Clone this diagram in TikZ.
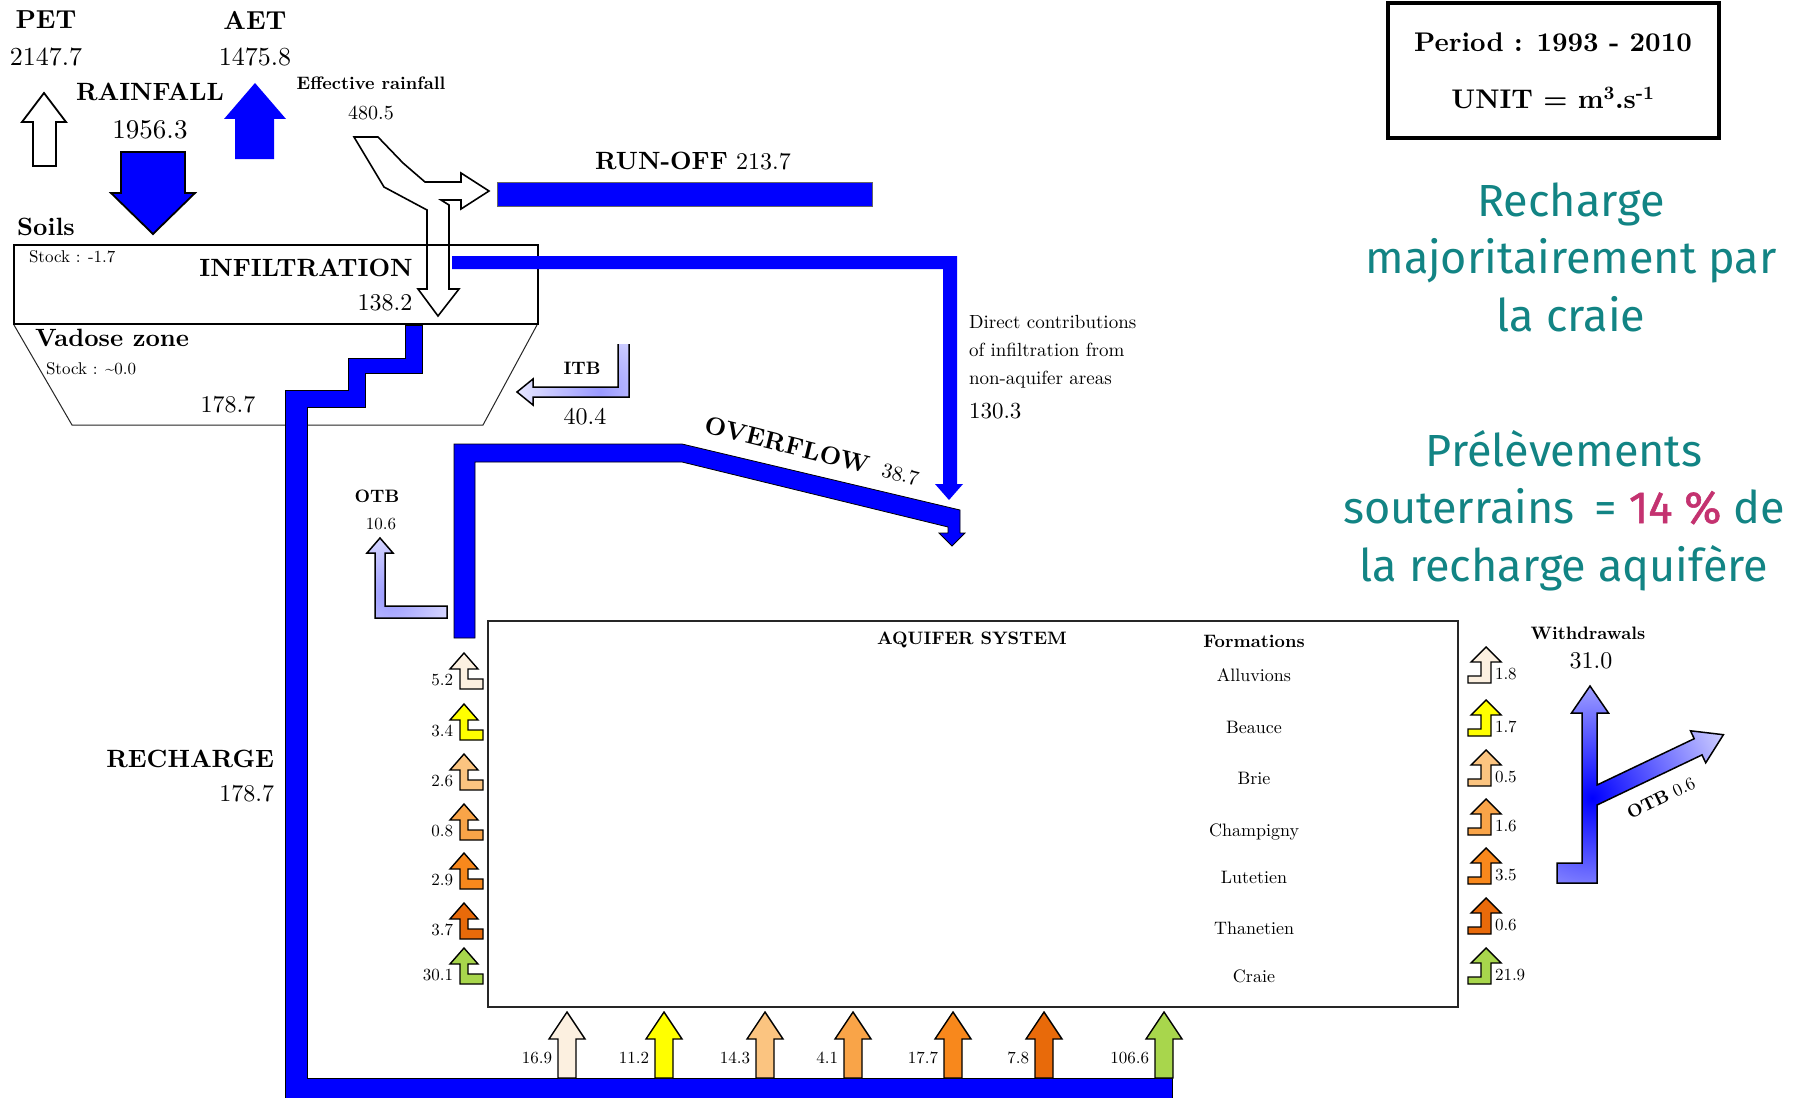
\documentclass[tikz,border=0pt]{standalone}
\usepackage{fontspec}
\setmainfont{Latin Modern Roman}[OpticalSize=10]
\newfontfamily\tealfont{Fira Sans}
\newfontfamily\magfont{Fira Sans}[FakeBold=1.2]
\definecolor{tealtxt}{RGB}{18,132,132}
\definecolor{magtxt}{RGB}{196,50,112}
\definecolor{cAll}{RGB}{252,240,224}
\definecolor{cBea}{RGB}{255,255,0}
\definecolor{cBri}{RGB}{251,196,128}
\definecolor{cCha}{RGB}{249,164,72}
\definecolor{cLut}{RGB}{248,136,28}
\definecolor{cTha}{RGB}{232,106,10}
\definecolor{cCra}{RGB}{168,214,76}
\newcommand{\fsz}[1]{\fontsize{#1}{#1}\selectfont}
\newcommand{\inArrowL}[4]{%
  \draw[smallarrow, fill=#3] (464,#2) -- ++(14,16) -- ++(-10,0) -- ++(0,10) -- ++(15,0) -- ++(0,10) -- ++(-23,0) -- ++(0,-20) -- ++(-10,0) -- cycle;
  \node[txt, font=\fsz{17}, anchor=east] (#1) at (453,{#2+27}) {#4};}
\newcommand{\outArrowR}[4]{%
  \draw[smallarrow, fill=#3] (1486,#2) -- ++(15,15) -- ++(-10,0) -- ++(0,21) -- ++(-23,0) -- ++(0,-7) -- ++(13,0) -- ++(0,-14) -- ++(-10,0) -- cycle;
  \node[txt, font=\fsz{17}, anchor=west] (#1) at (1495,{#2+27}) {#4};}
\newcommand{\upArrowB}[4]{%
  \draw[smallarrow, fill=#3] (#2,1012) -- ++(18,27) -- ++(-9,0) -- ++(0,39) -- ++(-18,0) -- ++(0,-39) -- ++(-9,0) -- cycle;
  \node[txt, font=\fsz{17}, anchor=east] (#1) at ({#2-15},1058) {#4};}
\tikzset{
  txt/.style={inner sep=0pt, outer sep=0pt},
  bigarrow/.style={draw=black, line width=1.8pt, line join=miter},
  smallarrow/.style={draw=black, line width=1.4pt, line join=miter},
  flow/.style={fill=blue, draw=black, line width=0.8pt},
  tealline/.style={inner sep=0pt, anchor=base, text=tealtxt, font=\tealfont\fsz{45}}
}
\begin{document}
\begin{tikzpicture}[x=1pt,y=-1pt]
\useasboundingbox (0,0) rectangle (1803,1097);
\fill[white] (0,0) rectangle (1803,1097);

% ---- top-left atmosphere ----
\node[txt, font=\bfseries\fsz{26}] (pet) at (46,20) {PET};
\node[txt, font=\fsz{26}] (petv) at (46,57) {2147.7};
\node[txt, font=\bfseries\fsz{26}] (aet) at (255,20) {AET};
\node[txt, font=\fsz{26}] (aetv) at (255,57) {1475.8};
\node[txt, font=\bfseries\fsz{25}] (rain) at (150,92) {RAINFALL};
\node[txt, font=\fsz{27}] (rainv) at (150,130) {1956.3};
\node[txt, font=\bfseries\fsz{18}] (eff) at (371,83) {Effective rainfall};
\node[txt, font=\fsz{20}] (effv) at (371,113) {480.5};

\draw[bigarrow, fill=white] (44,93) -- (66,122) -- (56,122) -- (56,166) -- (33,166) -- (33,122) -- (22,122) -- cycle;
\fill[blue] (255,83) -- (286,119) -- (274,119) -- (274,159) -- (235,159) -- (235,119) -- (224,119) -- cycle;
\draw[bigarrow, fill=blue] (121,152) -- (185,152) -- (185,193) -- (195,193) -- (153,234) -- (111,193) -- (121,193) -- cycle;

% effective rainfall split arrow
\draw[line width=1.6pt, line join=miter] (354,137) -- (378,137) -- (403,163) -- (425,182) -- (461,182) -- (461,173) -- (489,191) -- (461,209) -- (461,200) -- (441,200) -- (449,205) -- (449,289) -- (459,289) -- (438,316) -- (418,289) -- (427,289) -- (427,210) -- (384,187) -- cycle;

% run-off
\fill[blue, draw=black!60, line width=0.6pt] (497,182) rectangle (872,206);
\node[txt, font=\fsz{24}] (runoff) at (693,161) {\fsz{25}\textbf{RUN-OFF} \fsz{24}213.7};

% ---- soils and vadose zone ----
\node[txt, font=\bfseries\fsz{25}] (soils) at (46,227) {Soils};
\draw[line width=2pt] (14,245) rectangle (538,324);
\node[txt, font=\fsz{17}, anchor=west] (stock1) at (29,257) {Stock : -1.7};
\node[txt, font=\bfseries\fsz{25}] (infil) at (306,268) {INFILTRATION};
\node[txt, font=\fsz{24}] (infv) at (385,303) {138.2};
\draw[line width=1pt, black!85] (14,325) -- (72,425) -- (483,425) -- (537,325);
\node[txt, font=\bfseries\fsz{25}, anchor=west] (vad) at (35,338) {Vadose zone};
\node[txt, font=\fsz{17}, anchor=west] (stock2) at (46,369) {Stock : \textasciitilde0.0};
\node[txt, font=\fsz{24}] (vadv) at (228,405) {178.7};

% infiltration to direct contributions
\fill[blue] (452,256) -- (957,256) -- (957,484) -- (963,484) -- (949,500) -- (935,484) -- (943,484) -- (943,269) -- (452,269) -- cycle;
\node[txt, font=\fontsize{19}{28}\selectfont, align=left, anchor=north west] (direct) at (969,315) {Direct contributions\\of infiltration from\\non-aquifer areas};
\node[txt, font=\fsz{23}, anchor=base west] (c130) at (969,418) {130.3};

% recharge staircase
\draw[flow] (405,325) -- (405,358) -- (348,358) -- (348,390) -- (285,390) -- (285,1102) -- (1172,1102) -- (1172,1078) -- (307,1078) -- (307,407) -- (365,407) -- (365,373) -- (422,373) -- (422,325) -- cycle;
\node[txt, font=\bfseries\fsz{25}, anchor=east] (rech) at (274,759) {RECHARGE};
\node[txt, font=\fsz{24}, anchor=east] (rechv) at (274,794) {178.7};

% ITB
\path[path picture={\shade[inner color=blue!40, outer color=white] (600,392) circle (110);}] (618,344) -- (618,387) -- (533,387) -- (533,379) -- (517,392) -- (533,405) -- (533,397) -- (629,397) -- (629,344) -- cycle;
\draw[line width=1.5pt, line join=miter] (618,344) -- (618,387) -- (533,387) -- (533,379) -- (517,392) -- (533,405) -- (533,397) -- (629,397) -- (629,344);
\node[txt, font=\bfseries\fsz{18}] (itb) at (582,368) {ITB};
\node[txt, font=\fsz{24}] (itbv) at (585,417) {40.4};

% overflow
\draw[flow] (454,638) -- (454,444) -- (682,444) -- (960,510) -- (960,533) -- (965,533) -- (952,546) -- (939,533) -- (948,533) -- (948,527) -- (682,462) -- (475,462) -- (475,638) -- cycle;
\node[txt, rotate=-14] (ovf) at (812,451) {\fsz{25}\textbf{OVERFLOW}\hspace{14pt}\fsz{21}38.7};

% OTB left
\draw[line width=1.5pt, line join=miter, path picture={\shade[inner color=blue!40, outer color=white] (390,596) circle (100);}] (380,538) -- (393,553) -- (385,553) -- (385,606) -- (447,606) -- (447,618) -- (375,618) -- (375,553) -- (367,553) -- cycle;
\node[txt, font=\bfseries\fsz{18}] (otb) at (377,496) {OTB};
\node[txt, font=\fsz{17}] (otbv) at (381,524) {10.6};

% aquifer system box
\draw[line width=1.8pt, black!85] (488,621) rectangle (1458,1007);
\node[txt, font=\bfseries\fsz{18}] (aq) at (972,640) {AQUIFER SYSTEM};
\node[txt, font=\bfseries\fsz{18}] (form) at (1254,641) {Formations};
\node[txt, font=\fsz{18}, anchor=base] (fAll) at (1254,681) {Alluvions};
\node[txt, font=\fsz{18}, anchor=base] (fBea) at (1254,733) {Beauce};
\node[txt, font=\fsz{18}, anchor=base] (fBri) at (1254,784) {Brie};
\node[txt, font=\fsz{18}, anchor=base] (fCha) at (1254,836) {Champigny};
\node[txt, font=\fsz{18}, anchor=base] (fLut) at (1254,883) {Lutetien};
\node[txt, font=\fsz{18}, anchor=base] (fTha) at (1254,934) {Thanetien};
\node[txt, font=\fsz{18}, anchor=base] (fCra) at (1254,982) {Craie};

% left inflow arrows
\inArrowL{l1}{653}{cAll}{5.2}
\inArrowL{l2}{704}{cBea}{3.4}
\inArrowL{l3}{754}{cBri}{2.6}
\inArrowL{l4}{804}{cCha}{0.8}
\inArrowL{l5}{853}{cLut}{2.9}
\inArrowL{l6}{903}{cTha}{3.7}
\inArrowL{l7}{948}{cCra}{30.1}

% bottom recharge arrows
\upArrowB{b1}{567}{cAll}{16.9}
\upArrowB{b2}{664}{cBea}{11.2}
\upArrowB{b3}{765}{cBri}{14.3}
\upArrowB{b4}{853}{cCha}{4.1}
\upArrowB{b5}{953}{cLut}{17.7}
\upArrowB{b6}{1044}{cTha}{7.8}
\upArrowB{b7}{1164}{cCra}{106.6}

% right withdrawal arrows
\outArrowR{r1}{647}{cAll}{1.8}
\outArrowR{r2}{700}{cBea}{1.7}
\outArrowR{r3}{750}{cBri}{0.5}
\outArrowR{r4}{799}{cCha}{1.6}
\outArrowR{r5}{848}{cLut}{3.5}
\outArrowR{r6}{898}{cTha}{0.6}
\outArrowR{r7}{948}{cCra}{21.9}

% withdrawals Y arrow
\node[txt, font=\bfseries\fsz{18}] (wd) at (1588,633) {Withdrawals};
\node[txt, font=\fsz{24}] (wdv) at (1591,661) {31.0};
\draw[line width=1.5pt, line join=miter, path picture={\shade[inner color=blue, outer color=white] (1592,798) circle (180);}] (1557,883) -- (1557,863) -- (1582,863) -- (1582,713) -- (1571.5,713) -- (1590,686) -- (1608.5,713) -- (1597,713) -- (1597,785) -- (1694.2,738.7) -- (1690.5,730.8) -- (1723.4,734.7) -- (1705.7,762.8) -- (1702.0,754.9) -- (1597,805) -- (1597,883) -- cycle;
\node[txt, rotate=26] (otb2) at (1661,798) {\fsz{18}\textbf{OTB} 0.6};

% period box
\draw[line width=4pt] (1388,3) rectangle (1719,138);
\node[txt, font=\bfseries\fsz{27}] (period) at (1553,42) {Period : 1993 - 2010};
\node[txt, font=\bfseries\fsz{27}] (unit) at (1553,98) {UNIT = m\textsuperscript{3}.s\textsuperscript{-1}};

% comments
\node[tealline] (t1) at (1571,216) {Recharge};
\node[tealline] (t2) at (1571,273) {majoritairement par};
\node[tealline] (t3) at (1571,331) {la craie};
\node[tealline] (t4) at (1564,466) {Prélèvements};
\node[tealline] (t5) at (1564,523) {souterrains\hspace{20pt}= {\magfont\color{magtxt}14 \%} de};
\node[tealline] (t6) at (1564,581) {la recharge aquifère};
\end{tikzpicture}
\end{document}
